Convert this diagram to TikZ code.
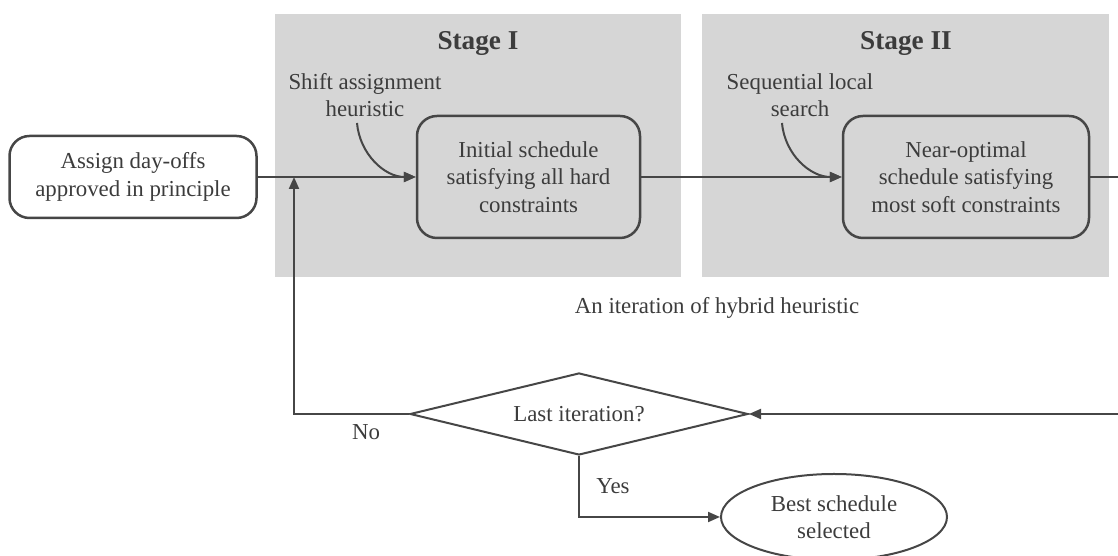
\documentclass[tikz,border=0pt]{standalone}
\usepackage{fontspec}
\setmainfont{Liberation Serif}
\usetikzlibrary{arrows.meta,shapes.geometric}
\definecolor{stagegray}{RGB}{214,214,214}
\definecolor{linegray}{RGB}{70,70,70}
\definecolor{textgray}{RGB}{60,60,60}
\tikzset{
	box/.style={draw=linegray, line width=0.5mm, rounded corners=0.4cm, align=center, inner sep=0pt},
	lbl/.style={text=textgray, align=center},
	arr/.style={draw=linegray, line width=0.4mm, -{Triangle[length=2.4mm,width=2mm]}},
	ln/.style={draw=linegray, line width=0.4mm}
}

\begin{document}
\begin{tikzpicture}[every node/.style={text=textgray, font=\fontsize{13}{15.5}\selectfont}]
		%%%%% START %%%%%
		\useasboundingbox (0, 0) rectangle (22.36, 11.12);
		\clip (0, 0) rectangle (22.36, 11.12);
		
		\fill[stagegray] (5.5, 10.84) rectangle (13.62, 5.58);
		\fill[stagegray] (14.04, 10.84) rectangle (22.18, 5.58);
		
		\node[font=\bfseries\fontsize{15.5}{18}\selectfont] (stage1) at (9.56, 10.26) {Stage I};
		\node[font=\bfseries\fontsize{15.5}{18}\selectfont] (stage2) at (18.12, 10.26) {Stage II};
		
		\node[box, fill=white, minimum width=4.94cm, minimum height=1.64cm] (assign) at (2.66, 7.58) {Assign day-offs\\approved in principle};
		\node[box, minimum width=4.46cm, minimum height=2.44cm] (initial) at (10.57, 7.58) {Initial schedule\\satisfying all hard\\constraints};
		\node[box, minimum width=4.92cm, minimum height=2.44cm] (near) at (19.32, 7.58) {Near-optimal\\schedule satisfying\\most soft constraints};
		
		\node[lbl] (shift) at (7.3, 9.22) {Shift assignment\\heuristic};
		\node[lbl] (local) at (16.0, 9.22) {Sequential local\\search};
		\node[lbl] (iter) at (14.34, 4.96) {An iteration of hybrid heuristic};
		
		\node[draw=linegray, line width=0.4mm, diamond, aspect=4, inner sep=0pt, minimum width=6.76cm, minimum height=1.64cm] (last) at (11.58, 2.84) {Last iteration?};
		\node[draw=linegray, line width=0.4mm, ellipse, inner sep=0pt, minimum width=4.52cm, minimum height=1.72cm, align=center] (best) at (16.68, 0.78) {Best schedule\\selected};
		
		\coordinate (join) at (5.88, 7.58);
		\coordinate (rtop) at (22.6, 7.58);
		\coordinate (rbot) at (22.6, 2.84);
		
		\draw[ln] (assign.east) -- (join);
		\draw[arr] (join) -- (initial.west);
		\draw[arr] (initial.east) -- (near.west);
		\draw[ln] (near.east) -- (rtop) -- (rbot);
		\draw[arr] (rbot) -- (last.east);
		\draw[arr] (last.west) -| (join);
		\draw[arr] (last.south) |- (best.west);
		
		\draw[arr] (7.14, 8.66) to[out=-85, in=180] (initial.west);
		\draw[arr] (15.64, 8.66) to[out=-85, in=180] (near.west);
		
		\node (no) at (7.32, 2.48) {No};
		\node (yes) at (12.26, 1.4) {Yes};
		
		%%%%% END %%%%%
	\end{tikzpicture}
\end{document}
